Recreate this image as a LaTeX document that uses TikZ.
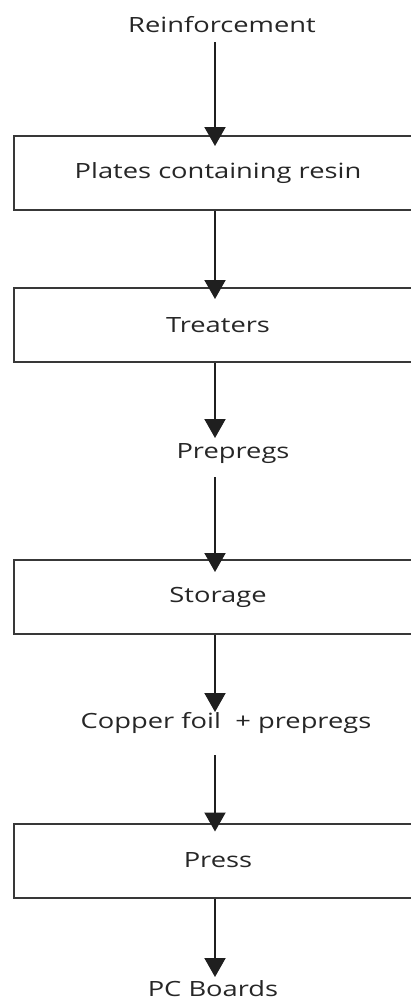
\documentclass[tikz,border=0pt]{standalone}
\usepackage{fontspec}
\setmainfont{Open Sans}[FakeStretch=1.3]
\usetikzlibrary{arrows.meta,calc}
\begin{document}
\begin{tikzpicture}[x=1pt,y=1pt,
  lbl/.style={font=\fontsize{21}{25}\selectfont, text=black!85, inner sep=0pt, anchor=base},
  stage/.style={draw=black!78, line width=2pt, minimum width=408pt, minimum height=74pt,
    inner sep=0pt, font=\fontsize{21}{25}\selectfont, text=black!85},
  arr/.style={draw=black!88, line width=2pt, -{Triangle[width=21pt,length=19pt]}}]
\useasboundingbox (0,0) rectangle (411,-1001);
\fill[white] (0,0) rectangle (411,-1001);
\coordinate (ax) at (215,0);
% labels
\node[lbl] (reinf) at (222,-32) {Reinforcement};
\node[lbl] (prep) at (233,-458) {Prepregs};
\node[lbl] (cop) at (226,-728) {Copper foil\hspace{0.35em} + prepregs};
\node[lbl] (pcb) at (213,-996) {PC Boards};
% boxes
\node[stage] (b1) at (218,-173) {Plates containing resin};
\node[stage] (b2) at (218,-325) {Treaters};
\node[stage] (b3) at (218,-597) {Storage};
\node[stage] (b4) at (218,-860.5) {Press};
% connectors
\draw[arr] ($(ax |- reinf.base)+(0,-10)$) -- ($(ax |- b1.north)+(0,-11)$);
\draw[arr] (ax |- b1.south) -- ($(ax |- b2.north)+(0,-12)$);
\draw[arr] (ax |- b2.south) -- ($(ax |- prep.base)+(0,20)$);
\draw[arr] ($(ax |- prep.base)+(0,-19)$) -- ($(ax |- b3.north)+(0,-13)$);
\draw[arr] (ax |- b3.south) -- ($(ax |- cop.base)+(0,16)$);
\draw[arr] ($(ax |- cop.base)+(0,-27)$) -- ($(ax |- b4.north)+(0,-9)$);
\draw[arr] (ax |- b4.south) -- ($(ax |- pcb.base)+(0,19)$);
\end{tikzpicture}
\end{document}
